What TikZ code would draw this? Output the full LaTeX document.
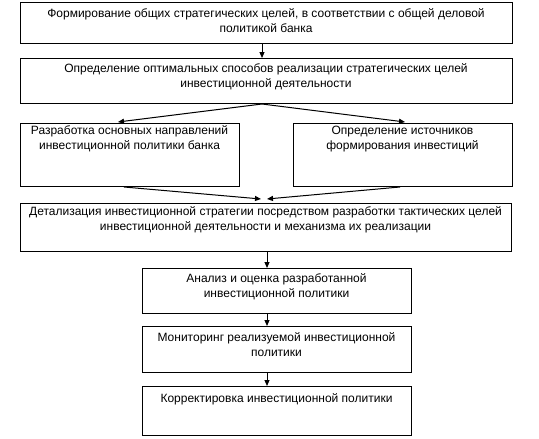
\documentclass[tikz,border=0pt]{standalone}
\usepackage{fontspec}
\setmainfont{Liberation Sans}
\usetikzlibrary{arrows.meta}
\newcommand{\bxt}[4]{\parbox[c][#2pt][t]{#1pt}{\fontsize{12}{15}\selectfont\centering\vspace*{#3pt}\strut #4\par}}
\tikzset{
  box/.style={draw, line width=1pt, inner sep=0pt, outer sep=0pt},
  arr/.style={-{Triangle[length=6pt,width=5pt]}, line width=1pt},
}
\begin{document}
\begin{tikzpicture}[x=1pt,y=-1pt]
\useasboundingbox (0,0) rectangle (539,439);
\node[box] (b1) at (266,22.5) {\bxt{492}{41}{4.5}{Формирование общих стратегических целей, в соответствии с общей деловой\\политикой банка}};
\node[box] (b2) at (266,80.5) {\bxt{492}{45}{4}{Определение оптимальных способов реализации стратегических целей\\инвестиционной деятельности}};
\node[box] (b3) at (129.5,154.5) {\bxt{219}{63}{1}{Разработка основных направлений\\инвестиционной политики банка}};
\node[box] (b4) at (402.5,154.5) {\bxt{219}{63}{1}{Определение источников\\формирования инвестиций}};
\node[box] (b5) at (265.5,227) {\bxt{491}{48}{2}{Детализация инвестиционной стратегии посредством разработки тактических целей\\инвестиционной деятельности и механизма их реализации}};
\node[box] (b6) at (276.5,290.5) {\bxt{269}{45}{4}{Анализ и оценка разработанной\\инвестиционной политики}};
\node[box] (b7) at (276.5,349) {\bxt{269}{46}{5}{Мониторинг реализуемой инвестиционной\\политики}};
\node[box] (b8) at (276.5,410.5) {\bxt{269}{49}{6}{Корректировка инвестиционной политики}};
\coordinate (fork) at (262,104);
\draw[arr] (b1.south -| fork) -- (b2.north -| fork);
\draw[arr] (fork) -- ([yshift=1pt]b3.north -| 118,0);
\draw[arr] (fork) -- ([yshift=1pt]b4.north -| 405,0);
\draw[arr] ([yshift=-1pt]b3.south -| 124,0) -- ([yshift=4pt]b5.north -| 261,0);
\draw[arr] ([yshift=-1pt]b4.south -| 400,0) -- ([yshift=4pt]b5.north -| 267,0);
\draw[arr] (b5.south -| 267,0) -- (b6.north -| 267,0);
\draw[arr] (b6.south -| 267,0) -- (b7.north -| 267,0);
\draw[arr] (b7.south -| 267,0) -- (b8.north -| 267,0);
\end{tikzpicture}
\end{document}
